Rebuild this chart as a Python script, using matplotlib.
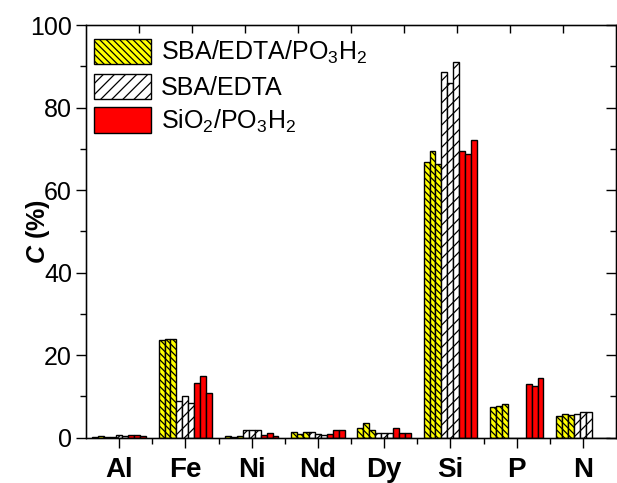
import numpy as np
import matplotlib
matplotlib.use("Agg")
import matplotlib.pyplot as plt
from matplotlib.ticker import MultipleLocator, FixedLocator, NullFormatter
from matplotlib.patches import Patch

plt.rcParams["font.family"] = ["Liberation Sans", "DejaVu Sans"]
plt.rcParams["mathtext.fontset"] = "custom"
plt.rcParams["mathtext.rm"] = "Liberation Sans"
plt.rcParams["mathtext.it"] = "Liberation Sans:italic:bold"
plt.rcParams["mathtext.bf"] = "Liberation Sans:bold"
plt.rcParams["hatch.linewidth"] = 0.9

elements = ["Al", "Fe", "Ni", "Nd", "Dy", "Si", "P", "N"]

# three replicate measurements per element and material
sba_edta_po3h2 = [
    [0.2, 0.4, 0.1],
    [23.7, 24.0, 23.8],
    [0.3, 0.1, 0.4],
    [1.4, 0.8, 1.4],
    [2.2, 3.6, 1.9],
    [66.9, 69.5, 66.4],
    [7.3, 7.6, 8.1],
    [5.3, 5.6, 5.5],
]
sba_edta = [
    [0.1, 0.5, 0.4],
    [8.9, 10.0, 8.4],
    [1.8, 1.8, 1.8],
    [1.3, 0.8, 0.5],
    [1.0, 1.1, 1.1],
    [88.6, 86.0, 91.1],
    [0.0, 0.0, 0.0],
    [5.7, 6.2, 6.1],
]
sio2_po3h2 = [
    [0.6, 0.6, 0.3],
    [13.2, 15.0, 10.8],
    [0.5, 1.0, 0.4],
    [0.8, 1.8, 1.9],
    [2.2, 1.2, 1.2],
    [69.5, 68.7, 72.1],
    [13.0, 12.5, 14.4],
    [0.0, 0.0, 0.0],
]

series = [
    {"data": sba_edta_po3h2, "label": "SBA/EDTA/PO$_3$H$_2$",
     "color": "#ffff00", "hatch": "\\\\\\\\\\"},
    {"data": sba_edta, "label": "SBA/EDTA",
     "color": "white", "hatch": "///"},
    {"data": sio2_po3h2, "label": "SiO$_2$/PO$_3$H$_2$",
     "color": "#ff0000", "hatch": ""},
]

fig = plt.figure(figsize=(6.17, 4.83), dpi=100)
ax = fig.add_axes([0.1394, 0.0942, 0.8590, 0.8540])

x = np.arange(1, len(elements) + 1)
w = 0.09
for g, s in enumerate(series):
    vals = np.array(s["data"])
    for r in range(3):
        offs = (g * 3 + r - 4) * w
        ax.bar(x + offs, vals[:, r], width=w, color=s["color"],
               edgecolor="black", linewidth=1.0, hatch=s["hatch"], zorder=2)

ax.set_xlim(0.5, 8.5)
ax.set_ylim(0, 100)
ax.set_xticks(x)
ax.set_xticklabels(elements, fontsize=20, fontweight="bold")
ax.xaxis.set_minor_locator(FixedLocator(x[:-1] + 0.5))
ax.yaxis.set_major_locator(MultipleLocator(20))
ax.yaxis.set_minor_locator(MultipleLocator(10))
ax.tick_params(axis="y", which="major", direction="out", length=7, width=1,
               labelsize=18, pad=3)
ax.tick_params(axis="y", which="minor", direction="out", length=4, width=1)
ax.tick_params(axis="x", which="major", direction="out", length=7, width=1,
               pad=7)
ax.tick_params(axis="x", which="minor", direction="out", length=4, width=1)
ax.set_ylabel("$C$ (%)", fontsize=18, fontweight="bold")
ax.yaxis.set_label_coords(-0.064, 0.5)

for sp in ax.spines.values():
    sp.set_linewidth(1.0)

# mirrored axes with inward ticks
axr = ax.twinx()
axr.set_ylim(0, 100)
axr.yaxis.set_major_locator(MultipleLocator(20))
axr.yaxis.set_minor_locator(MultipleLocator(10))
axr.yaxis.set_major_formatter(NullFormatter())
axr.tick_params(which="major", direction="in", length=7, width=1)
axr.tick_params(which="minor", direction="in", length=4, width=1)

axt = ax.twiny()
axt.set_xlim(0, 10)
axt.set_xticks(np.arange(1, 10))
axt.xaxis.set_major_formatter(NullFormatter())
axt.tick_params(direction="in", length=6, width=1)

handles = [Patch(facecolor=s["color"], edgecolor="black", hatch=s["hatch"],
                 linewidth=1.0, label=s["label"]) for s in series]
ax.legend(handles=handles, loc="upper left", bbox_to_anchor=(0.0, 0.985),
          frameon=False, fontsize=18, handlelength=2.3, handleheight=1.2,
          labelspacing=0.3, handletextpad=0.4, borderaxespad=0.05,
          borderpad=0.25)

fig.savefig("out.png", dpi=100)
